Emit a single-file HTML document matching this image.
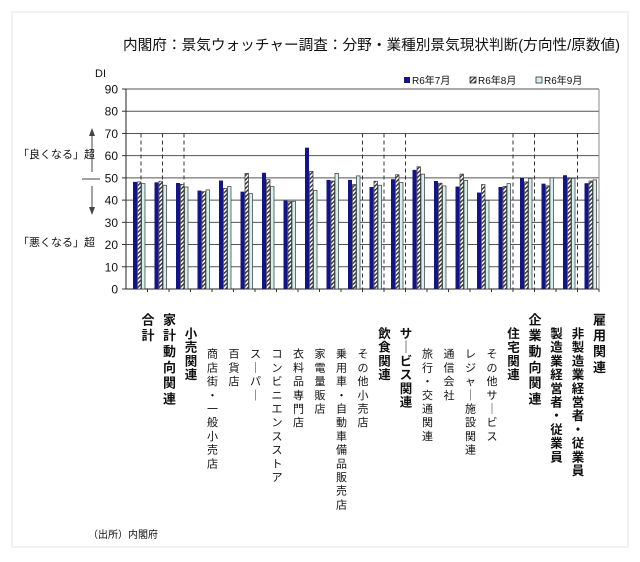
<!DOCTYPE html>
<html><head><meta charset="utf-8">
<style>
body{margin:0;background:#fff;width:640px;height:557px;overflow:hidden;font-family:"Liberation Sans","Noto Sans CJK JP",sans-serif;}
svg text{font-family:"Liberation Sans","Noto Sans CJK JP",sans-serif;}
</style></head><body>
<svg id="chart" width="640" height="557" xmlns="http://www.w3.org/2000/svg">
<defs>
<pattern id="hatch" patternUnits="userSpaceOnUse" width="3" height="3" patternTransform="rotate(45)">
<rect width="3" height="3" fill="#fff"/><rect width="1.4" height="3" fill="#333"/>
</pattern>
</defs>
<rect x="12" y="12" width="616" height="535" fill="none" stroke="#e4e4e4"/>
<text x="123" y="50" font-size="14.5" textLength="497" lengthAdjust="spacingAndGlyphs" fill="#111">内閣府：景気ウォッチャー調査：分野・業種別景気現状判断(方向性/原数値)</text>
<text x="95" y="77" font-size="11" fill="#111">DI</text>
<g id="grid"></g>
<g id="bars"></g>
<g id="labels"></g>
<g>
<rect x="404" y="77" width="6" height="6" fill="#14148a"/>
<text x="412" y="84" font-size="10" fill="#111">R6年7月</text>
<rect x="470" y="77" width="6" height="6" fill="url(#hatch)" stroke="#333" stroke-width="0.8"/>
<text x="478" y="84" font-size="10" fill="#111">R6年8月</text>
<rect x="536" y="77" width="6" height="6" fill="#d6f0ef" stroke="#333" stroke-width="0.8"/>
<text x="544" y="84" font-size="10" fill="#111">R6年9月</text>
</g>
<g stroke="#444" fill="#444">
<line x1="92" y1="132" x2="92" y2="172" stroke-width="1"/>
<polygon points="89,136 92,128 95,136" stroke="none"/>
<line x1="82" y1="179" x2="100" y2="179" stroke-width="1"/>
<line x1="92" y1="186" x2="92" y2="210" stroke-width="1"/>
<polygon points="89,207 92,215 95,207" stroke="none"/>
</g>
<text x="18" y="158" font-size="11" fill="#111">「良くなる」超</text>
<text x="18" y="246" font-size="11" fill="#111">「悪くなる」超</text>
<text x="88" y="538" font-size="10" fill="#111">（出所）内閣府</text>
</svg>
<script>
const categories=["合計","家計動向関連","小売関連","商店街・一般小売店","百貨店","スーパー","コンビニエンスストア","衣料品専門店","家電量販店","乗用車・自動車備品販売店","その他小売店","飲食関連","サービス関連","旅行・交通関連","通信会社","レジャー施設関連","その他サービス","住宅関連","企業動向関連","製造業経営者・従業員","非製造業経営者・従業員","雇用関連"];
const levels=[1,1,2,3,3,3,3,3,3,3,3,2,2,3,3,3,3,2,1,2,2,1];
const jul=[48.2,48.0,47.7,44.3,48.8,43.8,52.3,39.8,63.6,49.1,49.1,45.9,49.4,53.6,48.6,46.1,43.4,45.9,50.0,47.4,51.2,47.6];
const aug=[48.2,48.5,47.1,43.8,45.3,52.0,49.2,39.3,52.9,48.6,47.0,48.5,51.4,55.0,47.6,51.7,47.0,46.2,48.2,46.4,50.0,48.6];
const sep=[47.4,46.7,45.9,44.6,46.1,42.9,46.1,39.5,44.4,52.0,50.9,46.7,47.9,51.7,46.4,48.9,39.9,47.4,49.8,50.0,49.8,49.1];
const yTicks=[0,10,20,30,40,50,60,70,80,90];
const dashedCats=[0,1,2,11,12,13,18,19,21];
const NS="http://www.w3.org/2000/svg";
const L=126,R=599,T=89,B=289,yMax=90;
const bw=(R-L)/categories.length;
function y(v){return B-(v/yMax)*(B-T);}
function xg(i){return L+7+bw*i;}
function mk(tag,attrs,parent){const e=document.createElementNS(NS,tag);for(const k in attrs)e.setAttribute(k,attrs[k]);parent.appendChild(e);return e;}
const grid=document.getElementById('grid'),bars=document.getElementById('bars'),labels=document.getElementById('labels');
yTicks.forEach(t=>{
  const ln=mk('line',{x1:L,x2:R,y1:y(t),y2:y(t),stroke:t===0?'#222':'#555','stroke-width':1},grid);
  
  
  const tk=mk('line',{x1:L-4,x2:L,y1:y(t),y2:y(t),stroke:'#333'},grid);
  
  
  const tx=mk('text',{x:L-8,y:y(t)+4.5,'font-size':12,'text-anchor':'end',fill:'#111'},grid);
  tx.textContent=t;
  
  
});
const ax=mk('line',{x1:L,x2:L,y1:T,y2:B,stroke:'#222'},grid);


const rb=mk('line',{x1:R,x2:R,y1:T,y2:B,stroke:'#888'},grid);


dashedCats.forEach(i=>{
  const xx=i<3?xg(i)+8:xg(i)-7;
  const d=mk('line',{x1:xx,x2:xx,y1:y(70),y2:B,stroke:'#333','stroke-dasharray':'4,3'},grid);
  
  
});
categories.forEach((c,i)=>{
  const x0=xg(i);
  const b1=mk('rect',{x:x0,y:y(jul[i]),width:4,height:B-y(jul[i]),fill:'#14148a'},bars);
  
  
  const b2=mk('rect',{x:x0+4.5,y:y(aug[i]),width:3.5,height:B-y(aug[i]),fill:'url(#hatch)',stroke:'#333','stroke-width':0.7},bars);
  
  
  const b3=mk('rect',{x:x0+8.5,y:y(sep[i]),width:3.5,height:B-y(sep[i]),fill:'#d6f0ef',stroke:'#333','stroke-width':0.7},bars);
  
  
  const tk=mk('line',{x1:L+bw*(i+1),x2:L+bw*(i+1),y1:B,y2:B+3,stroke:'#333'},grid);
  
  
  const lv=levels[i];
  const fs=lv===1?13:(lv===2?12.5:11);
  const step=lv===1?15.8:13.7;
  const top=lv===1?313:(lv===2?327:348);
  const g=mk('g',{},labels);
  
  
  const cx=x0+15;
  [...c].forEach((ch,k)=>{
    const t=mk('text',{x:cx,y:top+step*k+fs*0.88,'font-size':fs,'text-anchor':'middle',fill:'#111','font-weight':lv<3?'bold':'normal'},g);
    let chr=ch;
    if(ch==='ー')chr='｜';
    t.textContent=chr;
  });
});
</script>
</body></html>
